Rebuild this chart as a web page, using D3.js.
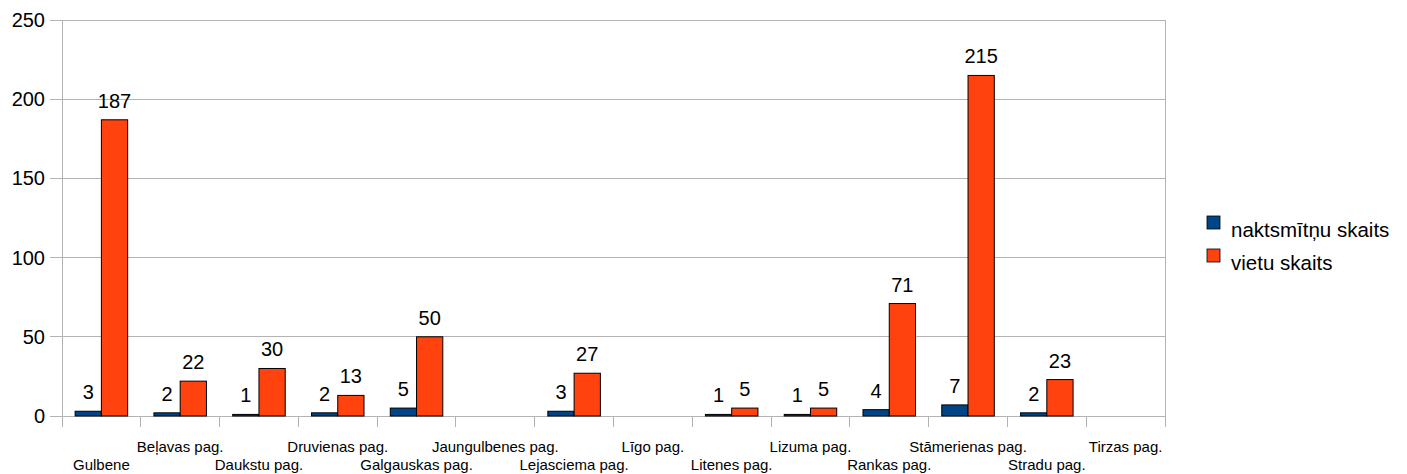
<!DOCTYPE html>
<html><head><meta charset="utf-8">
<script src="https://cdn.jsdelivr.net/npm/d3@7"></script>
<style>body{margin:0;background:#fff}svg{display:block}text{font-family:"Liberation Sans",Arial,sans-serif}</style>
</head><body>
<script>
const categories = ["Gulbene","Beļavas pag.","Daukstu pag.","Druvienas pag.","Galgauskas pag.","Jaungulbenes pag.","Lejasciema pag.","Līgo pag.","Litenes pag.","Lizuma pag.","Rankas pag.","Stāmerienas pag.","Stradu pag.","Tirzas pag."];
const naktsmitnu = [3,2,1,2,5,null,3,null,1,1,4,7,2,null];
const vietu = [187,22,30,13,50,null,27,null,5,5,71,215,23,null];
const seriesNames = ["naktsmītņu skaits","vietu skaits"];
const colors = ["#004586","#ff420e"];
const yTicks = [0,50,100,150,200,250];

const W=1407,H=474, L=62,R=1165,T=20,B=416;
const svg=d3.select("body").append("svg").attr("width",W).attr("height",H);
const x=d3.scaleBand().domain(categories).range([L,R]).paddingInner(0).paddingOuter(0);
const y=d3.scaleLinear().domain([0,250]).range([B,T]);
const xs=d3.scaleBand().domain([0,1]).range([0,x.bandwidth()]).paddingOuter(0.5).paddingInner(0);

// grid
svg.append("g").selectAll("line").data(yTicks).join("line")
 .attr("x1",L-12).attr("x2",R).attr("y1",d=>y(d)).attr("y2",d=>y(d))
 .attr("stroke","#b3b3b3").attr("stroke-width",1).attr("shape-rendering","crispEdges");
// y axis line & right border
svg.append("line").attr("x1",L).attr("x2",L).attr("y1",T).attr("y2",B+11).attr("stroke","#b3b3b3").attr("shape-rendering","crispEdges");
svg.append("line").attr("x1",R).attr("x2",R).attr("y1",T).attr("y2",B+11).attr("stroke","#b3b3b3").attr("shape-rendering","crispEdges");
// x ticks
svg.append("g").selectAll("line").data(categories.slice(1)).join("line")
 .attr("x1",d=>x(d)).attr("x2",d=>x(d)).attr("y1",B).attr("y2",B+11)
 .attr("stroke","#b3b3b3").attr("shape-rendering","crispEdges");
// y labels
svg.append("g").selectAll("text").data(yTicks).join("text")
 .attr("x",45).attr("y",d=>y(d)+7).attr("text-anchor","end").attr("font-size",20).attr("fill","#000").text(d=>d);
// x labels
svg.append("g").selectAll("text").data(categories).join("text")
 .attr("x",d=>x(d)+x.bandwidth()/2).attr("y",(d,i)=>i%2?452:470).attr("text-anchor","middle")
 .attr("font-size",15).attr("fill","#000").text(d=>d);

const series=[naktsmitnu,vietu];
series.forEach((vals,si)=>{
  const g=svg.append("g");
  const data=categories.map((c,i)=>({c,v:vals[i]})).filter(d=>d.v!=null);
  g.selectAll("rect").data(data).join("rect")
   .attr("x",d=>x(d.c)+xs(si)).attr("width",xs.bandwidth())
   .attr("y",d=>y(d.v)).attr("height",d=>B-y(d.v))
   .attr("fill",colors[si]).attr("stroke","#000").attr("stroke-width",1);
  g.selectAll("text").data(data).join("text")
   .attr("x",d=>x(d.c)+xs(si)+xs.bandwidth()/2).attr("y",d=>y(d.v)-12)
   .attr("text-anchor","middle").attr("font-size",20).attr("fill","#000").text(d=>d.v);
});

// legend
const lg=svg.append("g");
seriesNames.forEach((n,i)=>{
  lg.append("rect").attr("x",1207).attr("y",216+i*33).attr("width",13).attr("height",13)
    .attr("fill",colors[i]).attr("stroke","#000").attr("stroke-width",0.8);
  lg.append("text").attr("x",1231).attr("y",237+i*33).attr("font-size",20.5).attr("fill","#000").text(n);
});
</script>
</body></html>
